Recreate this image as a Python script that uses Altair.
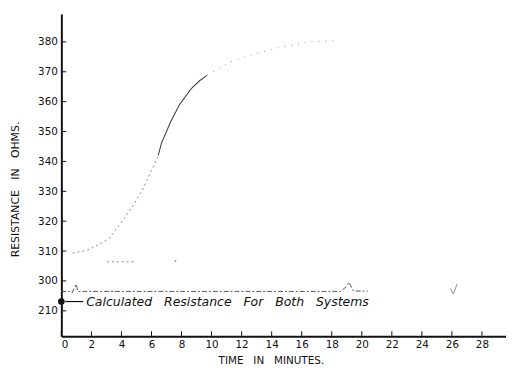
import altair as alt
import pandas as pd

NB = "\u00a0"

# --- data (plot units: the lowest tick stands for 210 ohms) ---
rise_a_t = [0.75, 0.97, 1.73, 2.5, 3.16, 4.04, 4.81, 5.4, 6.0, 6.45]
rise_a_v = [309.3, 309.5, 310.3, 312.2, 314.1, 319.9, 325.5, 330.5, 337.0, 342.0]
rise_b_t = [6.45, 6.67, 7.3, 7.88, 8.65, 9.2, 9.7]
rise_b_v = [342.0, 346.2, 353.5, 359.1, 364.4, 367.0, 368.8]
rise_c_t = [9.7, 10.52, 11.29, 11.94, 12.87, 14.2, 15.57, 16.45, 17.33, 18.1]
rise_c_v = [368.8, 371.2, 373.4, 374.5, 375.9, 377.8, 379.1, 380.0, 380.2, 380.5]

base_t = [0.0, 0.55, 0.72, 0.98, 1.1, 18.6, 18.95, 19.15, 19.45, 20.4]
base_v = [296.5, 296.5, 296.0, 298.9, 296.5, 296.5, 298.0, 299.5, 296.6, 296.6]

mark26_t = [25.9, 26.1, 26.35]
mark26_v = [297.4, 295.7, 299.0]

dash307_t = [3.03, 4.94]
dash307_v = [306.4, 306.4]
dot307_t = [7.6]
dot307_v = [306.6]

calc_t = [0.0]
calc_v = [293.1]
arrow_t = [0.25, 1.45]
arrow_v = [293.1, 293.1]
label_t = [1.65]
label_v = [293.1]
label_text = [f"Calculated{NB}{NB} Resistance{NB}{NB} For{NB}{NB} Both{NB}{NB} Systems"]

x_ticks = list(range(0, 29, 2))
y_ticks = [290, 300, 310, 320, 330, 340, 350, 360, 370, 380]
y_tick_labels = ["210", "300", "310", "320", "330", "340", "350", "360", "370", "380"]

W, H = 450, 326

label_expr = " : ".join(
    [f"datum.value == {v} ? '{s}'" for v, s in zip(y_ticks, y_tick_labels)]
) + " : datum.label"

X = alt.X(
    "t:Q",
    scale=alt.Scale(domain=[0, 29.6], nice=False, zero=False),
    axis=alt.Axis(
        values=x_ticks, ticks=False, grid=False, labelPadding=3,
        labelFontSize=10.5, labelColor="#111", domainColor="#111", domainWidth=2,
        title=f"TIME{NB}{NB} IN{NB}{NB} MINUTES.", titleFontSize=10.5,
        titleFontWeight="normal", titleColor="#111",
        titleX=212, titleY=25, titleBaseline="middle", titleAnchor="middle",
    ),
)
Y = alt.Y(
    "v:Q",
    scale=alt.Scale(domain=[281.5, 389.3], nice=False, zero=False),
    axis=alt.Axis(
        values=y_ticks, labelExpr=label_expr, ticks=False, grid=False,
        labelPadding=4, labelFontSize=10.5, labelColor="#111",
        domainColor="#111", domainWidth=2,
        title=f"RESISTANCE{NB}{NB} IN{NB}{NB} OHMS.", titleFontSize=11,
        titleFontWeight="normal", titleColor="#111",
        titleX=-46, titleY=177, titleBaseline="middle", titleAnchor="middle",
    ),
)


def df(t, v):
    return pd.DataFrame({"t": t, "v": v})


layers = []
layers.append(alt.Chart(df(rise_a_t, rise_a_v)).mark_line(
    color="#888", strokeWidth=1, strokeDash=[2, 3]).encode(x=X, y=Y))
layers.append(alt.Chart(df(rise_b_t, rise_b_v)).mark_line(
    color="#444", strokeWidth=1.1).encode(x=X, y=Y))
layers.append(alt.Chart(df(rise_c_t, rise_c_v)).mark_line(
    color="#999", strokeWidth=1, strokeDash=[1, 6]).encode(x=X, y=Y))
layers.append(alt.Chart(df(base_t, base_v)).mark_line(
    color="#555", strokeWidth=1, strokeDash=[5, 2, 2, 2]).encode(x=X, y=Y))
layers.append(alt.Chart(df(mark26_t, mark26_v)).mark_line(
    color="#888", strokeWidth=1).encode(x=X, y=Y))
layers.append(alt.Chart(df(dash307_t, dash307_v)).mark_line(
    color="#888", strokeWidth=1, strokeDash=[2, 3]).encode(x=X, y=Y))
layers.append(alt.Chart(df(dot307_t, dot307_v)).mark_circle(
    color="#888", size=3, opacity=1).encode(x=X, y=Y))
layers.append(alt.Chart(df(arrow_t, arrow_v)).mark_line(
    color="#111", strokeWidth=1.2).encode(x=X, y=Y))
layers.append(alt.Chart(df(calc_t, calc_v)).mark_circle(
    color="#111", size=45, opacity=1).encode(x=X, y=Y))
layers.append(alt.Chart(pd.DataFrame({"t": label_t, "v": label_v, "s": label_text})).mark_text(
    align="left", baseline="middle", fontStyle="italic", fontSize=12.6, color="#111"
).encode(x=X, y=Y, text="s:N"))

# inward tick marks
layers.append(alt.Chart(pd.DataFrame({"v": y_ticks})).mark_rule(
    color="#111", strokeWidth=1).encode(y=Y, x=alt.value(0), x2=alt.value(5)))
layers.append(alt.Chart(pd.DataFrame({"t": x_ticks})).mark_rule(
    color="#111", strokeWidth=1).encode(x=X, y=alt.value(H), y2=alt.value(H - 5)))

chart = alt.layer(*layers).properties(
    width=W, height=H, autosize="none",
    padding={"left": 54, "top": 4, "right": 0, "bottom": 30},
).configure(font="DejaVu Sans").configure_view(stroke=None)

chart.save("out.html", embed_options={"renderer": "svg", "actions": False})
